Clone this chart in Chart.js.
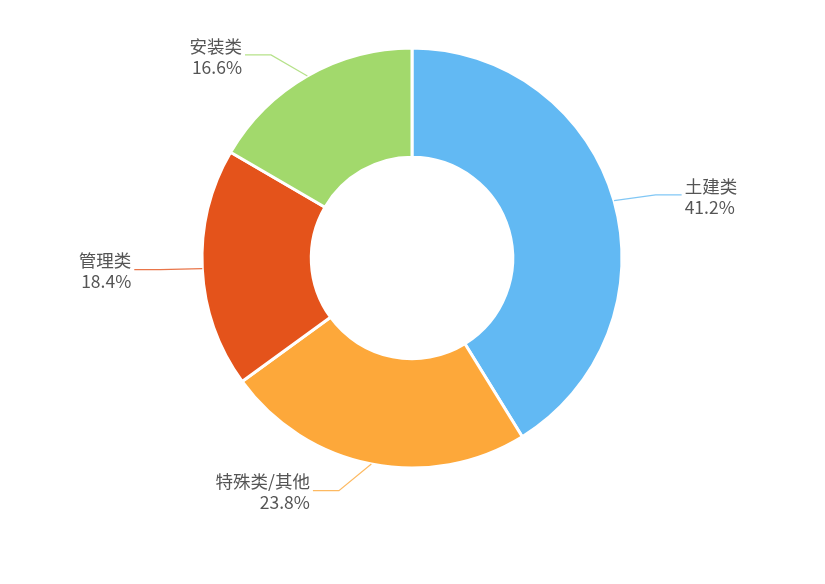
<!DOCTYPE html>
<html>
<head>
<meta charset="utf-8">
<script src="https://cdn.jsdelivr.net/npm/chart.js@4/dist/chart.umd.min.js"></script>
<style>
  html, body { margin: 0; padding: 0; background: #fff; }
  #wrap { width: 825px; height: 584px; }
</style>
</head>
<body>
<div id="wrap"><canvas id="pie"></canvas></div>
<script>
const categories = ['土建类', '特殊类/其他', '管理类', '安装类']
const shares = [41.2, 23.8, 18.4, 16.6]
const colors = ['#62b9f3', '#fda83a', '#e4531b', '#a2d96c']

// draws leader lines + two-line labels beside each slice
const sideLabels = {
    id: 'sideLabels',
    afterDatasetsDraw(chart, args, opts) {
        const ctx = chart.ctx
        const meta = chart.getDatasetMeta(0)
        ctx.save()
        meta.data.forEach((arc, i) => {
            const { x, y, startAngle, endAngle, outerRadius } = arc.getProps(['x', 'y', 'startAngle', 'endAngle', 'outerRadius'], true)
            const mid = (startAngle + endAngle) / 2
            const right = Math.cos(mid) >= 0
            // first segment is pulled halfway towards horizontal
            const horiz = right ? 0 : Math.PI
            let m = mid
            if (!right && m < 0) m += Math.PI * 2
            const segAngle = (m + horiz) / 2

            const x0 = x + Math.cos(mid) * outerRadius
            const y0 = y + Math.sin(mid) * outerRadius
            const x1 = x0 + Math.cos(segAngle) * opts.len1
            const y1 = y0 + Math.sin(segAngle) * opts.len1
            const x2 = x1 + (right ? opts.len2 : -opts.len2)

            ctx.strokeStyle = colors[i]
            ctx.globalAlpha = 0.8
            ctx.lineWidth = 1.2
            ctx.beginPath()
            ctx.moveTo(x0, y0)
            ctx.lineTo(x1, y1)
            ctx.lineTo(x2, y1)
            ctx.stroke()
            ctx.globalAlpha = 1

            ctx.fillStyle = '#555'
            ctx.font = '17.5px "Noto Sans CJK SC", "Noto Sans", sans-serif'
            ctx.textAlign = right ? 'left' : 'right'
            ctx.textBaseline = 'middle'
            const tx = x2 + (right ? 3 : -3)
            ctx.fillText(categories[i], tx, y1 - 9)
            ctx.fillText(shares[i].toFixed(1) + '%', tx, y1 + 12)
        })
        ctx.restore()
    }
}

new Chart(document.getElementById('pie'), {
    type: 'doughnut',
    data: {
        labels: categories,
        datasets: [{
            data: shares,
            backgroundColor: colors,
            borderColor: '#fff',
            borderWidth: 3,
            hoverOffset: 0
        }]
    },
    options: {
        responsive: true,
        maintainAspectRatio: false,
        animation: false,
        radius: 210,
        cutout: 100,
        layout: { padding: { left: 202, right: 203, top: 48, bottom: 116 } },
        plugins: {
            legend: { display: false },
            tooltip: { enabled: false },
            sideLabels: { len1: 42, len2: 26 }
        }
    },
    plugins: [sideLabels]
})
</script>
</body>
</html>
